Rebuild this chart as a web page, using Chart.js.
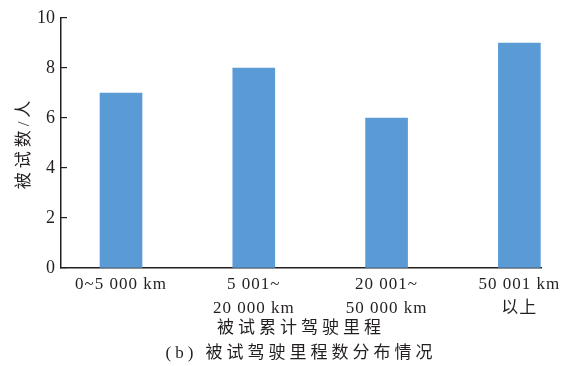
<!DOCTYPE html>
<html>
<head>
<meta charset="utf-8">
<script src="https://cdn.jsdelivr.net/npm/chart.js@4"></script>
<style>
  body { margin: 0; background: #fff; }
</style>
</head>
<body>
<canvas id="mileageChart" width="571" height="366"></canvas>
<script>
// mileage groups and number of subjects in each
const categories = [
  ['0~5 000 km'],
  ['5 001~', '20 000 km'],
  ['20 001~', '50 000 km'],
  ['50 001 km', '以上']
];
const counts = [7, 8, 6, 9];
const yTicks = [0, 2, 4, 6, 8, 10];

const ink = '#231f20';
const serif = "'Liberation Serif', 'Noto Sans CJK SC', serif";

// titles and x labels are set with extra space between characters
const spacedText = {
  id: 'spacedText',
  beforeDraw(chart) {
    const wrap = (obj, name, spacing) => {
      if (!obj || obj['_spaced_' + name]) return;
      const orig = obj[name];
      obj[name] = function (...args) {
        const c = chart.ctx;
        const prev = c.letterSpacing;
        c.letterSpacing = spacing;
        orig.apply(this, args);
        c.letterSpacing = prev || '0px';
      };
      obj['_spaced_' + name] = true;
    };
    wrap(chart.scales.x, 'drawTitle', '4px');
    wrap(chart.scales.y, 'drawTitle', '4px');
    wrap(chart.scales.x, 'drawLabels', '1px');
  }
};

const data = {
  datasets: [{
    label: '被试数',
    data: counts.map((v, i) => ({ x: i, y: v })),
    backgroundColor: '#5b9bd5',
    borderWidth: 0,
    barThickness: 42
  }]
};

const config = {
  type: 'bar',
  data: data,
  options: {
    responsive: false,
    animation: false,
    layout: { padding: { top: 18, left: 0, right: 30, bottom: 0 } },
    plugins: {
      legend: { display: false },
      tooltip: { enabled: false }
    },
    scales: {
      x: {
        type: 'linear',
        offset: false,
        min: -0.452,
        max: 3.163,
        afterBuildTicks: s => { s.ticks = categories.map((_, i) => ({ value: i })); },
        afterFit: s => { s.height = 98; s.paddingLeft = 0; s.paddingRight = 0; },
        grid: { display: false, drawTicks: false },
        border: { display: true, color: ink, width: 1.5 },
        ticks: {
          color: ink,
          padding: 5,
          autoSkip: false,
          maxRotation: 0,
          font: { family: serif, size: 17, lineHeight: 1.4 },
          callback: v => categories[v]
        },
        title: {
          display: true,
          text: ['被试累计驾驶里程', '(b) 被试驾驶里程数分布情况'],
          color: ink,
          font: { family: serif, size: 17, lineHeight: 1.47 },
          padding: 0
        }
      },
      y: {
        min: 0,
        max: 10,
        afterBuildTicks: s => { s.ticks = yTicks.map(v => ({ value: v })); },
        afterFit: s => { s.width = 61; s.paddingTop = 0; s.paddingBottom = 0; },
        grid: { drawOnChartArea: false, drawTicks: true, tickLength: -6, color: ink, lineWidth: 1.2 },
        border: { display: true, color: ink, width: 1.5 },
        ticks: {
          color: ink,
          padding: 12,
          font: { family: serif, size: 18 }
        },
        title: {
          display: true,
          text: '被试数/人',
          color: ink,
          font: { family: serif, size: 17 },
          padding: { top: 14, bottom: 0 }
        }
      }
    }
  },
  plugins: [spacedText]
};

new Chart(document.getElementById('mileageChart'), config);
</script>
</body>
</html>
